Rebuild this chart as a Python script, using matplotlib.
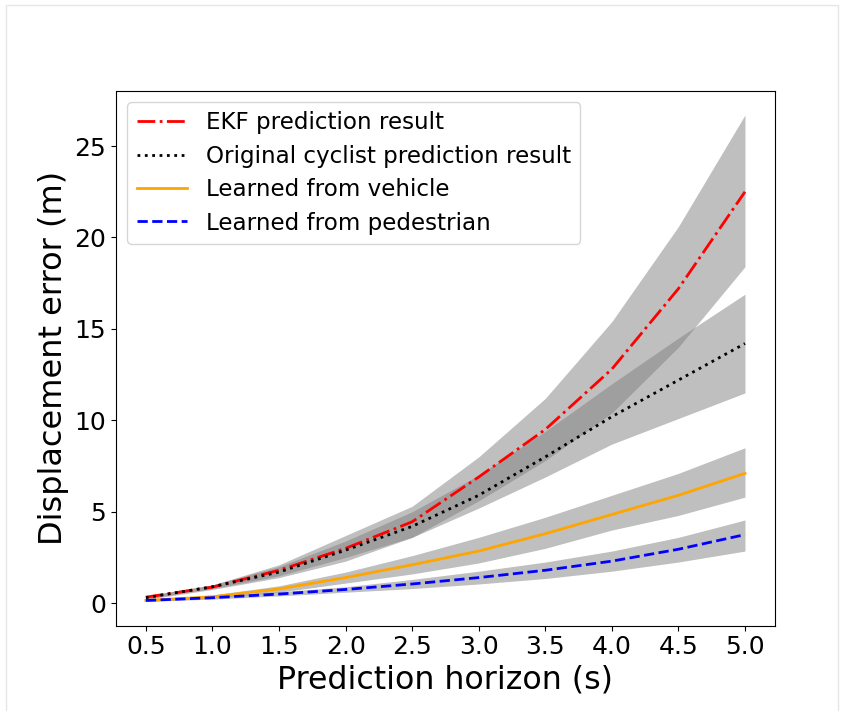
import numpy as np
import matplotlib.pyplot as plt
from matplotlib.patches import Rectangle

# prediction horizons (s)
horizon = [0.5, 1.0, 1.5, 2.0, 2.5, 3.0, 3.5, 4.0, 4.5, 5.0]

# mean displacement error and band limits (m)
ekf_mean = [0.33, 0.88, 1.8, 3.0, 4.45, 6.9, 9.5, 12.8, 17.2, 22.5]
ekf_upper = [0.4, 1.0, 2.1, 3.7, 5.3, 8.0, 11.2, 15.4, 20.6, 26.7]
ekf_lower = [0.25, 0.8, 1.5, 2.5, 3.6, 5.6, 7.8, 10.4, 14.0, 18.4]

orig_mean = [0.3, 0.9, 1.7, 2.9, 4.2, 5.9, 8.0, 10.2, 12.2, 14.2]
orig_upper = [0.4, 1.0, 2.0, 3.4, 5.0, 7.0, 9.4, 12.0, 14.5, 16.9]
orig_lower = [0.2, 0.75, 1.4, 2.3, 3.6, 5.2, 6.9, 8.7, 10.1, 11.5]

veh_mean = [0.15, 0.35, 0.78, 1.4, 2.1, 2.85, 3.8, 4.85, 5.9, 7.1]
veh_upper = [0.2, 0.45, 0.95, 1.7, 2.6, 3.6, 4.7, 5.9, 7.1, 8.5]
veh_lower = [0.1, 0.28, 0.6, 1.1, 1.6, 2.2, 3.0, 4.0, 4.8, 5.8]

ped_mean = [0.15, 0.3, 0.5, 0.75, 1.05, 1.4, 1.8, 2.3, 2.95, 3.75]
ped_upper = [0.2, 0.38, 0.62, 0.9, 1.3, 1.75, 2.25, 2.85, 3.6, 4.55]
ped_lower = [0.1, 0.22, 0.4, 0.6, 0.8, 1.05, 1.35, 1.75, 2.25, 2.85]

fig = plt.figure(figsize=(8.46, 7.11), dpi=100)
fig.add_artist(Rectangle((6 / 846, -0.01), 832 / 846, 1 - 4.5 / 711 + 0.01,
                         transform=fig.transFigure, fill=False,
                         edgecolor="#e6e6e6", linewidth=1))
ax = fig.add_axes([0.137, 0.12, 0.779, 0.7525])

for lo, hi in [(ekf_lower, ekf_upper), (orig_lower, orig_upper),
               (veh_lower, veh_upper), (ped_lower, ped_upper)]:
    ax.fill_between(horizon, lo, hi, color="gray", alpha=0.5, linewidth=0)

ax.plot(horizon, ekf_mean, "r-.", lw=2, label="EKF prediction result")
ax.plot(horizon, orig_mean, "k:", lw=2, label="Original cyclist prediction result")
ax.plot(horizon, veh_mean, color="orange", ls="-", lw=2, label="Learned from vehicle")
ax.plot(horizon, ped_mean, "b--", lw=2, label="Learned from pedestrian")

ax.set_xticks(horizon)
ax.tick_params(labelsize=18)
ax.set_xlabel("Prediction horizon (s)", fontsize=22.8)
ax.set_ylabel("Displacement error (m)", fontsize=23)
ax.legend(loc="upper left", fontsize=16.6, handlelength=2.2, labelspacing=0.45)

plt.savefig("out.png", dpi=100)
